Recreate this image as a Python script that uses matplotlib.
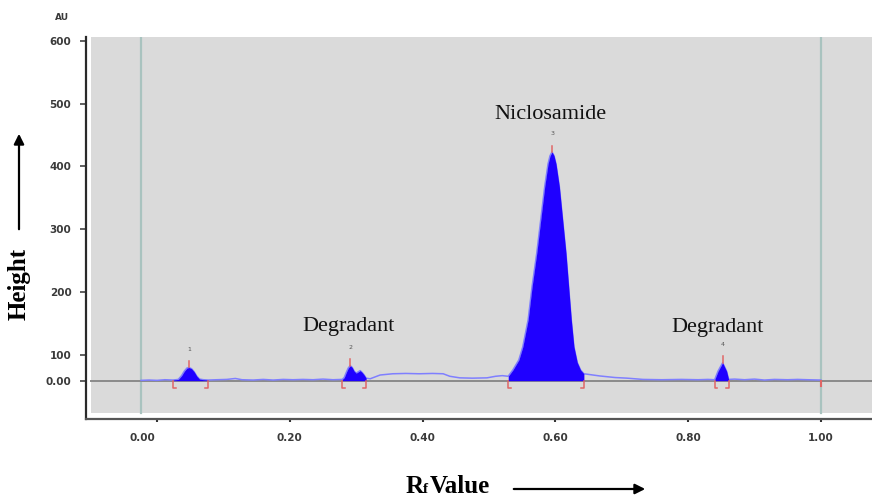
import matplotlib
matplotlib.use("Agg")
import matplotlib.pyplot as plt
from matplotlib.patches import Rectangle
from matplotlib.transforms import ScaledTranslation
import numpy as np

# ---- data ----
rf = [-0.024, -0.012, 0.000, 0.012, 0.024, 0.032, 0.037, 0.041, 0.045, 0.048,
      0.052, 0.056, 0.060, 0.064, 0.070, 0.077, 0.090, 0.105, 0.118, 0.128,
      0.145, 0.160, 0.175, 0.190, 0.205, 0.220, 0.235, 0.250, 0.265, 0.279,
      0.282, 0.285, 0.288, 0.291, 0.294, 0.297, 0.300, 0.303, 0.306, 0.309,
      0.312, 0.315, 0.321, 0.336, 0.355, 0.375, 0.395, 0.415, 0.431, 0.441,
      0.456, 0.475, 0.497, 0.510, 0.520, 0.529, 0.536, 0.545, 0.551, 0.559,
      0.565, 0.572, 0.578, 0.584, 0.589, 0.592, 0.595, 0.598, 0.601, 0.606,
      0.611, 0.616, 0.620, 0.624, 0.628, 0.633, 0.638, 0.643, 0.667, 0.690,
      0.708, 0.732, 0.760, 0.790, 0.815, 0.830, 0.840, 0.845, 0.852, 0.858,
      0.861, 0.870, 0.885, 0.900, 0.915, 0.930, 0.950, 0.965, 0.980, 1.000]
height = [59.5, 60, 59.5, 60.5, 60, 61, 67, 74, 79, 80,
          78, 73, 66, 61.5, 60.5, 60, 60.5, 61, 62.5, 60.5,
          60, 61, 60, 61, 60.5, 61, 60.5, 61.5, 60.5, 61,
          64, 72, 79, 83, 80, 74, 71, 73, 75, 72,
          68, 63, 62, 68, 70, 70.5, 70, 70.5, 70, 66,
          63.5, 63, 63.5, 66, 67, 66, 76, 92, 113, 156,
          209, 262, 315, 368, 404, 417, 423, 417, 404, 368,
          315, 262, 209, 156, 113, 88, 76, 70, 66.5, 64,
          63, 61, 60.5, 61, 60.5, 61, 60.5, 74, 87.5, 74,
          61, 61.5, 60.5, 61.5, 60, 61, 60.5, 61, 60.5, 60]
baseline = 59

peak_ids = ["1", "2", "3", "4"]
peak_rf = [0.048, 0.291, 0.595, 0.852]
peak_height = [80, 83, 423, 87.5]
peak_start = [0.024, 0.279, 0.529, 0.840]
peak_end = [0.077, 0.315, 0.643, 0.861]

labels = ["Degradant", "Niclosamide", "Degradant"]
label_rf = [0.288, 0.592, 0.845]
label_y = [146, 482, 143]

xticks = [0.0, 0.2, 0.4, 0.6, 0.8, 1.0]
xticklabels = ["0.00", "0.20", "0.40", "0.60", "0.80", "1.00"]
yticks = [59, 100, 200, 300, 400, 500, 600]
yticklabels = ["0.00", "100", "200", "300", "400", "500", "600"]
scan_start, scan_end = -0.024, 1.0

# ---- figure ----
W, H = 872, 498
fig = plt.figure(figsize=(W / 100, H / 100), dpi=100)
def fx(px): return px / W
def fy(py): return 1 - py / H

ax = fig.add_axes([fx(86), fy(419), fx(872) - fx(86), fy(37) - fy(419)])
ax.set_xlim(-0.107, 1.077)
ax.set_ylim(-2, 606)
ax.set_facecolor("white")
ax.add_patch(Rectangle((0.0064, 0.016), 1.0, 0.984, transform=ax.transAxes,
                       facecolor="#dadada", edgecolor="none", zorder=0))

for s in ["top", "right"]:
    ax.spines[s].set_visible(False)
ax.spines["left"].set_color("#2a2a2a")
ax.spines["left"].set_linewidth(1.6)
ax.spines["bottom"].set_color("#555555")
ax.spines["bottom"].set_linewidth(1.6)

# scan window vertical lines
for v in (scan_start, scan_end):
    ax.axvline(v, ymin=0.016, ymax=1.0, color="#a9c3bf", lw=1.6, zorder=1)
# baseline
ax.axhline(baseline, xmin=0.0064, color="#8a8a8a", lw=1.4, zorder=2)

rf_a = np.array(rf)
h_a = np.array(height)
ax.plot(rf_a, h_a, color="#7f7fff", lw=1.1, zorder=3)
for s0, e0 in zip(peak_start, peak_end):
    m = (rf_a >= s0) & (rf_a <= e0)
    ax.fill_between(rf_a[m], baseline, h_a[m], color="#1f00ff", lw=0, zorder=4)
    ax.plot([s0 + 0.004, s0, s0], [baseline - 12, baseline - 12, baseline],
            color="#e06666", lw=1.1, zorder=5)
    ax.plot([e0 - 0.004, e0, e0], [baseline - 12, baseline - 12, baseline],
            color="#e06666", lw=1.1, zorder=5)
ax.plot([scan_end, scan_end], [baseline, baseline - 8], color="#e06666", lw=1.5, zorder=5)

for pid, px_, ph in zip(peak_ids, peak_rf, peak_height):
    ax.plot([px_, px_], [ph, ph + 10], color="#e06666", lw=1.1, zorder=5)
    ax.annotate(pid, (px_, ph), xytext=(0, 13), textcoords="offset points",
                ha="center", va="center", fontsize=4.5, color="#555555")

for t, x, y in zip(labels, label_rf, label_y):
    ax.text(x, y, t, ha="center", va="center", fontsize=16,
            family="Liberation Serif", color="#111111")

ax.set_xticks(xticks)
ax.set_xticklabels(xticklabels)
ax.set_yticks(yticks)
ax.set_yticklabels(yticklabels)
ax.tick_params(axis="x", length=2, width=1.5, color="#333333", pad=8,
               labelsize=7.5, labelcolor="#3a3a3a")
ax.tick_params(axis="y", length=4.5, width=1.2, color="#444444", pad=6,
               labelsize=7.5, labelcolor="#3a3a3a")
for lab in ax.get_xticklabels() + ax.get_yticklabels():
    lab.set_fontweight("bold")
first = ax.get_xticklabels()[0]
first.set_transform(first.get_transform() + ScaledTranslation(-15 / 100, 0, fig.dpi_scale_trans))

fig.text(fx(62), fy(18), "AU", ha="center", va="center", fontsize=6.5,
         fontweight="bold", color="#3a3a3a")

# axis titles with arrows
fig.text(fx(19), fy(284), "Height", rotation=90, ha="center", va="center",
         fontsize=18, fontweight="bold", family="Liberation Serif")
fig.patches.append(matplotlib.patches.FancyArrowPatch(
    (fx(19), fy(232)), (fx(19), fy(131)), transform=fig.transFigure,
    arrowstyle="-|>,head_length=6,head_width=3", color="black", lw=1.6))

fig.text(fx(406), fy(486), "R", ha="left", va="center", fontsize=18,
         fontweight="bold", family="Liberation Serif")
fig.text(fx(423), fy(489), "f", ha="left", va="center", fontsize=11,
         fontweight="bold", family="Liberation Serif")
fig.text(fx(430), fy(486), "Value", ha="left", va="center", fontsize=18,
         fontweight="bold", family="Liberation Serif")
fig.patches.append(matplotlib.patches.FancyArrowPatch(
    (fx(511), fy(489)), (fx(648), fy(489)), transform=fig.transFigure,
    arrowstyle="-|>,head_length=6,head_width=3", color="black", lw=1.6))

fig.savefig("out.png", dpi=100)
